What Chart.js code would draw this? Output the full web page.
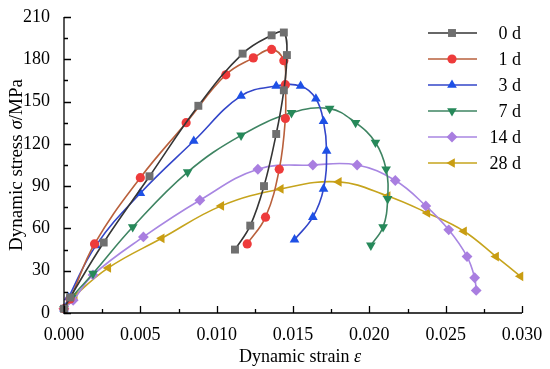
<!DOCTYPE html>
<html>
<head>
<meta charset="utf-8">
<script src="https://cdn.jsdelivr.net/npm/chart.js@4"></script>
<style>
	html, body { margin: 0; padding: 0; background: #fff; }
	#wrap { width: 550px; height: 369px; }
</style>
</head>
<body>
<div id="wrap"><canvas id="myChart" width="550" height="369"></canvas></div>
<script>
"use strict";

// curing ages (legend labels)
const seriesLabels = ["0 d", "1 d", "3 d", "7 d", "14 d", "28 d"];

// strain / stress, one pair of arrays per age
const strain0 = [0, 0.0004, 0.0026, 0.0056, 0.0088, 0.0117, 0.0136, 0.0144, 0.0146, 0.0144, 0.0139, 0.0131, 0.0122, 0.0112];
const stress0 = [3, 11, 50, 97, 147, 184, 197, 199, 183, 158, 127, 90, 62, 45];

const strain1 = [0, 0.0004, 0.0020, 0.0050, 0.0080, 0.0106, 0.0124, 0.0136, 0.0144, 0.0145, 0.0145, 0.0141, 0.0132, 0.0120];
const stress1 = [3, 10, 49, 96, 135, 169, 181, 187, 179, 162, 138, 102, 68, 49];

const strain3 = [0, 0.0003, 0.0021, 0.0050, 0.0085, 0.0116, 0.0139, 0.0155, 0.0165, 0.0170, 0.0172, 0.0170, 0.0163, 0.0151];
const stress3 = [3, 11, 48, 85, 122, 154, 161, 161, 152, 136, 115, 88, 68, 52];

const strain7 = [0, 0.0005, 0.0019, 0.0045, 0.0081, 0.0116, 0.0149, 0.0174, 0.0191, 0.0204, 0.0211, 0.0212, 0.0209, 0.0201];
const stress7 = [3, 11, 28, 61, 100, 126, 142, 145, 135, 121, 102, 81, 61, 48];

const strain14 = [0, 0.0006, 0.0019, 0.0052, 0.0089, 0.0127, 0.0163, 0.0192, 0.0217, 0.0237, 0.0252, 0.0264, 0.0269, 0.0270];
const stress14 = [3, 9, 27, 54, 80, 102, 105, 105, 94, 76, 59, 40, 25, 16];

const strain28 = [0, 0.0007, 0.0029, 0.0064, 0.0103, 0.0142, 0.0180, 0.0212, 0.0238, 0.0262, 0.0283, 0.0299];
const stress28 = [3, 12, 32, 53, 76, 88, 93, 83, 71, 58, 40, 26];

// axis ticks
const xTicks = [0, 0.005, 0.010, 0.015, 0.020, 0.025, 0.030];
const yTicks = [0, 30, 60, 90, 120, 150, 180, 210];

const strains = [strain0, strain1, strain3, strain7, strain14, strain28];
const stresses = [stress0, stress1, stress3, stress7, stress14, stress28];

const styles = [
	{ line: "#353535", mark: "#6f6f6f", shape: "rect", rot: 0, r: 5.6 },
	{ line: "#b9603c", mark: "#ee3b3b", shape: "circle", rot: 0, r: 4.6 },
	{ line: "#3346c9", mark: "#1e50e6", shape: "triangle", rot: 0, r: 5.6 },
	{ line: "#3e8462", mark: "#26895a", shape: "triangle", rot: 180, r: 5.6 },
	{ line: "#a886e2", mark: "#a97ee0", shape: "rectRot", rot: 0, r: 5.4 },
	{ line: "#c6a41d", mark: "#c99d12", shape: "triangle", rot: 270, r: 5.6 },
];

const FONT = "'Liberation Serif', 'DejaVu Serif', serif";

const datasets = seriesLabels.map((label, i) => ({
	label: label,
	data: strains[i].map((x, j) => ({ x: x, y: stresses[i][j] })),
	showLine: true,
	tension: 0.4,
	borderColor: styles[i].line,
	borderWidth: 1.6,
	pointStyle: styles[i].shape,
	rotation: styles[i].rot,
	pointRadius: styles[i].r,
	pointBackgroundColor: styles[i].mark,
	pointBorderColor: styles[i].mark,
	pointBorderWidth: 0,
	clip: false,
}));

// inward ticks, axis titles and the line+marker legend
const decor = {
	id: "decor",
	afterDraw(chart) {
		const c = chart.ctx;
		const xs = chart.scales.x;
		const ys = chart.scales.y;
		const left = xs.left;
		const bottom = ys.bottom;
		c.save();
		c.strokeStyle = "#000";
		c.lineWidth = 1.3;
		c.beginPath();
		c.moveTo(left, ys.top);
		c.lineTo(left, bottom);
		c.lineTo(xs.right, bottom);
		for (let v = 0; v <= 0.0301; v += 0.0025) {
			const px = Math.round(xs.getPixelForValue(v)) + 0.5;
			const major = Math.abs(v / 0.005 - Math.round(v / 0.005)) < 1e-6;
			c.moveTo(px, bottom);
			c.lineTo(px, bottom - (major ? 7 : 4));
		}
		for (let v = 0; v <= 210; v += 15) {
			const py = Math.round(ys.getPixelForValue(v)) + 0.5;
			c.moveTo(left, py);
			c.lineTo(left + (v % 30 === 0 ? 7 : 4), py);
		}
		c.stroke();

		// axis titles
		c.fillStyle = "#000";
		c.textBaseline = "alphabetic";
		const xParts = [["Dynamic strain ", "18px " + FONT], ["ε", "italic 18px " + FONT]];
		drawParts(c, xParts, (xs.left + xs.right) / 2 + 7, 362);
		c.translate(22, (ys.top + ys.bottom) / 2);
		c.rotate(-Math.PI / 2);
		const yParts = [["Dynamic stress ", "19px " + FONT], ["σ", "italic 19px " + FONT], ["/MPa", "19px " + FONT]];
		drawParts(c, yParts, 0, 0);
		c.restore();

		// legend
		c.save();
		chart.data.datasets.forEach((ds, i) => {
			const y = 33 + i * 26;
			c.strokeStyle = ds.borderColor;
			c.lineWidth = 1.6;
			c.beginPath();
			c.moveTo(428, y);
			c.lineTo(477, y);
			c.stroke();
			c.fillStyle = ds.pointBackgroundColor;
			Chart.helpers.drawPoint(c, { pointStyle: ds.pointStyle, rotation: ds.rotation, radius: ds.pointRadius, borderWidth: 0 }, 452, y);
			c.fillStyle = "#000";
			c.font = "18px " + FONT;
			c.textAlign = "right";
			c.textBaseline = "middle";
			c.fillText(ds.label, 521, y + 1);
		});
		c.restore();
	},
};

function drawParts(c, parts, cx, y) {
	let total = 0;
	parts.forEach((p) => {
		c.font = p[1];
		total += c.measureText(p[0]).width;
	});
	let x = cx - total / 2;
	c.textAlign = "left";
	parts.forEach((p) => {
		c.font = p[1];
		c.fillText(p[0], x, y);
		x += c.measureText(p[0]).width;
	});
}

const ctx = document.getElementById("myChart");
// eslint-disable-next-line no-unused-vars
const myChart = new Chart(ctx, {
	type: "scatter",
	data: { datasets: datasets },
	options: {
		responsive: false,
		animation: false,
		layout: { padding: { left: 0, top: 17, right: 28, bottom: 0 } },
		plugins: {
			legend: { display: false },
			tooltip: { enabled: false },
		},
		scales: {
			x: {
				type: "linear",
				min: 0,
				max: 0.03,
				afterBuildTicks: (s) => { s.ticks = xTicks.map((v) => ({ value: v })); },
				afterFit: (s) => { s.height = 56; },
				grid: { display: false },
				border: { display: false },
				ticks: {
					color: "#000",
					font: { family: FONT, size: 18 },
					padding: 3,
					maxRotation: 0,
					callback: (v) => v.toFixed(3),
				},
			},
			y: {
				min: 0,
				max: 210,
				afterBuildTicks: (s) => { s.ticks = yTicks.map((v) => ({ value: v })); },
				afterFit: (s) => { s.width = 64; },
				grid: { display: false },
				border: { display: false },
				ticks: {
					color: "#000",
					font: { family: FONT, size: 18 },
					padding: 6,
				},
			},
		},
	},
	plugins: [decor],
});
</script>
</body>
</html>
